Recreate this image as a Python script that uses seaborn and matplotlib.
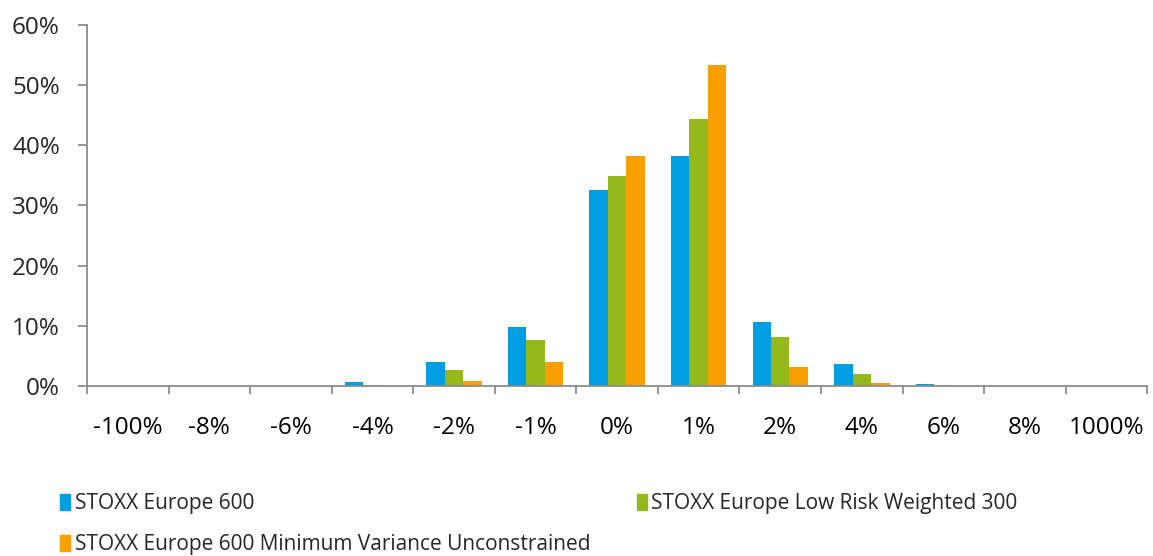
import pandas as pd
import matplotlib.pyplot as plt
import seaborn as sns
import numpy as np
from matplotlib.ticker import FixedLocator, PercentFormatter
from matplotlib.patches import Patch


categories = ['-100%', '-8%', '-6%', '-4%', '-2%', '-1%', '0%', '1%', '2%', '4%', '6%', '8%', '1000%']
series_names = ['STOXX Europe 600',
                'STOXX Europe Low Risk Weighted 300',
                'STOXX Europe 600 Minimum Variance Unconstrained']
stoxx600 = [0.0, 0.0, 0.05, 0.65, 4.0, 9.8, 32.5, 38.2, 10.6, 3.7, 0.3, 0.05, 0.05]
low_risk = [0.0, 0.0, 0.02, 0.2, 2.6, 7.6, 34.9, 44.3, 8.2, 1.9, 0.1, 0.02, 0.02]
min_var = [0.0, 0.0, 0.0, 0.05, 0.8, 3.9, 38.2, 53.3, 3.2, 0.4, 0.02, 0.0, 0.0]
colors = ['#009FE3', '#95B91A', '#F9A000']

df = pd.DataFrame({
    'bucket': categories * 3,
    'series': np.repeat(series_names, len(categories)),
    'value': stoxx600 + low_risk + min_var,
})

sns.set_style('white')
plt.rcParams['font.family'] = ['Open Sans', 'DejaVu Sans']

fig = plt.figure(figsize=(11.53, 5.56), dpi=100)
ax = fig.add_axes([0.0755, 0.306, 0.9195, 0.649])

sns.barplot(data=df, x='bucket', y='value', hue='series', order=categories,
            hue_order=series_names, palette=colors, width=0.68, gap=0,
            saturation=1, linewidth=0, ax=ax, legend=False)

ax.set_xlim(-0.5, len(categories) - 0.5)
ax.set_ylim(0, 60)
ax.set_yticks(np.arange(0, 61, 10))
ax.yaxis.set_major_formatter(PercentFormatter(decimals=0))
ax.set_xlabel('')
ax.set_ylabel('')

grey = '#8c8c8c'
ax.xaxis.set_minor_locator(FixedLocator(np.arange(-0.5, len(categories), 1)))
ax.tick_params(axis='x', which='major', length=0, pad=22, labelsize=17.5, colors='black')
ax.tick_params(axis='x', which='minor', length=6, width=1.3, color=grey, bottom=True)
ax.tick_params(axis='y', length=6.5, width=1.3, color=grey, left=True, pad=13, labelsize=17.5)

for side in ['top', 'right']:
    ax.spines[side].set_visible(False)
for side in ['left', 'bottom']:
    ax.spines[side].set_color(grey)
    ax.spines[side].set_linewidth(1.3)

# order so that the 2-column legend reads row by row
handles = [Patch(color=c, label=n) for c, n in zip(colors, series_names)]
handles = [handles[0], handles[2], handles[1]]
fig.legend(handles=handles, ncol=2, loc='upper left', bbox_to_anchor=(0.052, 0.113),
           frameon=False, fontsize=15, handlelength=0.5, handleheight=0.8,
           handletextpad=0.2, columnspacing=2.25, labelspacing=0.95,
           borderaxespad=0, borderpad=0)

fig.savefig('out.png', dpi=100)
